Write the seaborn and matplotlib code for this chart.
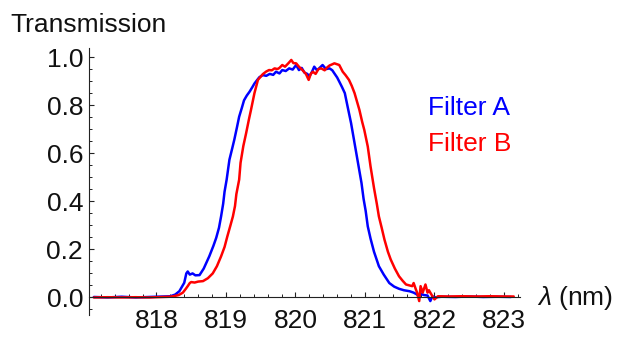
import numpy as np
import pandas as pd
import matplotlib
matplotlib.use("Agg")
import matplotlib.pyplot as plt
import seaborn as sns
from matplotlib.ticker import MultipleLocator, FixedLocator, FormatStrFormatter

# ---- data ----
wl_a = [817.10, 817.30, 817.50, 817.70, 817.90, 818.10, 818.20, 818.27, 818.33, 818.40,
        818.43, 818.45, 818.48, 818.52, 818.56, 818.62, 818.68, 818.76, 818.82, 818.86,
        818.90, 818.93, 818.96, 818.98, 819.01, 819.05, 819.09, 819.12, 819.16, 819.19,
        819.23, 819.26, 819.30, 819.34, 819.38, 819.41, 819.45, 819.48, 819.53, 819.58,
        819.63, 819.68, 819.72, 819.77, 819.81, 819.86, 819.91, 819.96, 820.01, 820.05,
        820.09, 820.13, 820.17, 820.20, 820.24, 820.27, 820.31, 820.34, 820.39, 820.44,
        820.49, 820.53, 820.56, 820.60, 820.63, 820.67, 820.71, 820.75, 820.80, 820.85,
        820.90, 820.95, 820.98, 821.01, 821.04, 821.08, 821.13, 821.20, 821.27, 821.35,
        821.42, 821.49, 821.56, 821.64, 821.70, 821.75, 821.78, 821.80, 821.85, 821.90,
        821.94, 821.97, 822.00, 822.10, 822.30, 822.50, 822.70, 822.90, 823.10]
tr_a = [0.002, 0.000, 0.003, 0.000, 0.002, 0.004, 0.005, 0.012, 0.026, 0.061,
        0.100, 0.108, 0.095, 0.100, 0.092, 0.093, 0.120, 0.171, 0.215, 0.248,
        0.290, 0.337, 0.390, 0.440, 0.490, 0.573, 0.620, 0.656, 0.710, 0.752,
        0.790, 0.820, 0.840, 0.856, 0.875, 0.890, 0.905, 0.916, 0.925, 0.922,
        0.930, 0.926, 0.939, 0.932, 0.946, 0.942, 0.953, 0.948, 0.967, 0.946,
        0.955, 0.935, 0.930, 0.919, 0.940, 0.960, 0.945, 0.953, 0.967, 0.950,
        0.953, 0.945, 0.932, 0.915, 0.898, 0.875, 0.850, 0.794, 0.725, 0.642,
        0.559, 0.476, 0.410, 0.360, 0.296, 0.245, 0.190, 0.130, 0.095, 0.060,
        0.045, 0.036, 0.030, 0.026, 0.020, 0.012, 0.000, 0.015, 0.010, 0.008,
        -0.015, 0.005, 0.000, 0.003, 0.002, 0.004, 0.002, 0.003, 0.002]

wl_b = [817.10, 817.30, 817.50, 817.70, 817.90, 818.10, 818.20, 818.26, 818.32, 818.38,
        818.42, 818.45, 818.48, 818.50, 818.55, 818.60, 818.67, 818.74, 818.81, 818.87,
        818.93, 818.98, 819.02, 819.06, 819.10, 819.13, 819.15, 819.19, 819.21, 819.25,
        819.29, 819.33, 819.36, 819.41, 819.46, 819.53, 819.58, 819.62, 819.66, 819.70,
        819.74, 819.77, 819.81, 819.85, 819.90, 819.94, 819.97, 820.01, 820.05, 820.10,
        820.15, 820.19, 820.22, 820.25, 820.29, 820.33, 820.37, 820.42, 820.46, 820.49,
        820.53, 820.56, 820.60, 820.63, 820.68, 820.72, 820.77, 820.81, 820.85, 820.88,
        820.92, 820.96, 820.99, 821.04, 821.08, 821.13, 821.17, 821.20, 821.24, 821.28,
        821.33, 821.37, 821.43, 821.49, 821.54, 821.59, 821.64, 821.68, 821.70, 821.73,
        821.75, 821.78, 821.80, 821.83, 821.87, 821.90, 821.92, 821.96, 822.00, 822.05,
        822.20, 822.40, 822.60, 822.80, 823.00, 823.14]
tr_b = [0.000, 0.001, 0.000, 0.001, 0.000, 0.002, 0.003, 0.006, 0.010, 0.020,
        0.035, 0.047, 0.060, 0.064, 0.062, 0.066, 0.068, 0.080, 0.100, 0.130,
        0.171, 0.210, 0.254, 0.295, 0.337, 0.380, 0.430, 0.490, 0.560, 0.630,
        0.683, 0.740, 0.780, 0.850, 0.905, 0.929, 0.940, 0.946, 0.945, 0.953,
        0.950, 0.955, 0.967, 0.960, 0.975, 0.988, 0.975, 0.974, 0.960, 0.946,
        0.930, 0.905, 0.930, 0.939, 0.930, 0.950, 0.953, 0.945, 0.958, 0.965,
        0.970, 0.974, 0.970, 0.967, 0.939, 0.925, 0.905, 0.880, 0.850, 0.820,
        0.780, 0.730, 0.697, 0.628, 0.545, 0.455, 0.390, 0.337, 0.290, 0.241,
        0.190, 0.158, 0.120, 0.088, 0.070, 0.054, 0.050, 0.047, 0.060, 0.035,
        0.020, -0.015, 0.047, 0.020, 0.054, 0.020, 0.030, 0.010, -0.008, 0.005,
        0.004, 0.005, 0.004, 0.005, 0.004, 0.004]

series_names = ["Filter A", "Filter B"]
series_colors = ["#0000ff", "#ff0000"]
x_ticks = [818, 819, 820, 821, 822, 823]
y_ticks = [0.0, 0.2, 0.4, 0.6, 0.8, 1.0]

df = pd.concat([
    pd.DataFrame({"wl": wl_a, "T": tr_a, "filter": series_names[0]}),
    pd.DataFrame({"wl": wl_b, "T": tr_b, "filter": series_names[1]}),
], ignore_index=True)

sns.set_theme(style="white")
plt.rcParams["font.family"] = ["Liberation Sans", "DejaVu Sans"]
plt.rcParams["mathtext.fontset"] = "custom"
plt.rcParams["mathtext.rm"] = "Liberation Sans"
plt.rcParams["mathtext.it"] = "Liberation Sans:italic"

FS = 19
fig = plt.figure(figsize=(6.19, 3.41), dpi=100)
ax = fig.add_axes([89 / 619, 1 - 315 / 341, (520 - 89) / 619, (315 - 47.7) / 341])

sns.lineplot(data=df, x="wl", y="T", hue="filter", hue_order=series_names,
             palette=dict(zip(series_names, series_colors)), estimator=None,
             sort=False, legend=False, linewidth=1.8, ax=ax)

ax.set_xlim(817.03, 823.23)
ax.set_ylim(-0.073, 1.039)

for s in ["top", "right"]:
    ax.spines[s].set_visible(False)
ax.spines["bottom"].set_position(("data", 0))
for s in ["left", "bottom"]:
    ax.spines[s].set_color("#222222")
    ax.spines[s].set_linewidth(0.8)

ax.xaxis.set_major_locator(FixedLocator(x_ticks))
ax.xaxis.set_minor_locator(MultipleLocator(0.2))
ax.yaxis.set_major_locator(FixedLocator(y_ticks))
ax.yaxis.set_minor_locator(MultipleLocator(0.05))
ax.yaxis.set_major_formatter(FormatStrFormatter("%.1f"))
ax.xaxis.set_major_formatter(FormatStrFormatter("%d"))

ax.tick_params(axis="both", which="both", bottom=True, left=True, top=False, right=False)
ax.tick_params(axis="both", which="major", direction="in", length=3.5, width=0.8,
               color="#222222", labelsize=FS, labelcolor="#111111")
ax.tick_params(axis="both", which="minor", direction="in", length=2.0, width=0.7,
               color="#222222")
ax.tick_params(axis="x", which="major", pad=8.5)
ax.tick_params(axis="y", which="major", pad=4.3)
ax.set_xlabel("")
ax.set_ylabel("")

fig.text(10 / 619, 1 - 32 / 341, "Transmission", fontsize=FS, color="#111111",
         ha="left", va="baseline")
fig.text(537 / 619, 1 - 298 / 341, r"$\lambda$ (nm)", fontsize=FS, color="#111111",
         ha="left", va="center")
fig.text(428 / 619, 1 - 115 / 341, series_names[0], fontsize=FS, color=series_colors[0],
         ha="left", va="baseline")
fig.text(428 / 619, 1 - 151 / 341, series_names[1], fontsize=FS, color=series_colors[1],
         ha="left", va="baseline")

fig.savefig("out.png", dpi=100)
